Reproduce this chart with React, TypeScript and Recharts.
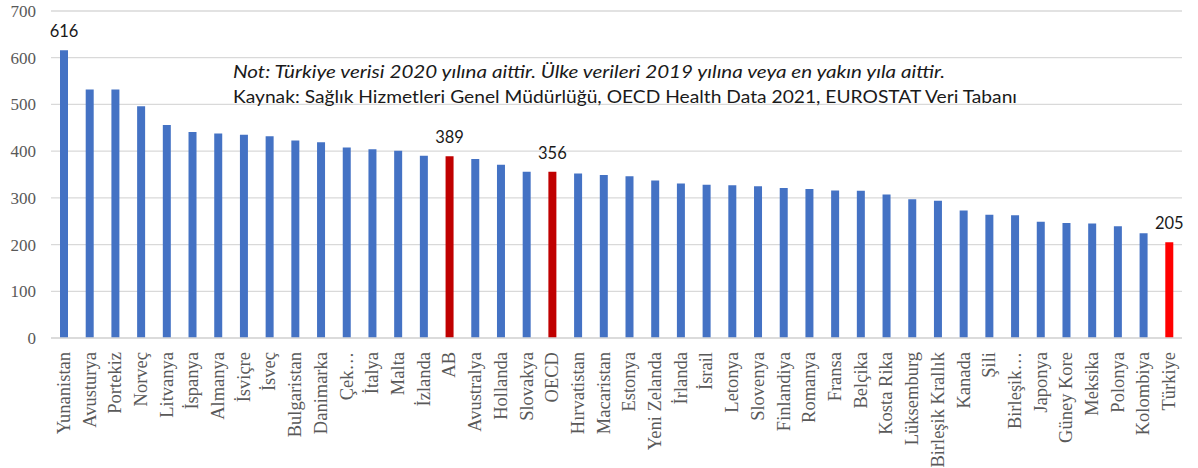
import React from 'react';
import { BarChart, Bar, XAxis, YAxis, CartesianGrid, Cell, LabelList } from 'recharts';

const categories = [
  'Yunanistan', 'Avusturya', 'Portekiz', 'Norveç', 'Litvanya', 'İspanya', 'Almanya', 'İsviçre',
  'İsveç', 'Bulgaristan', 'Danimarka', 'Çek…', 'İtalya', 'Malta', 'İzlanda', 'AB', 'Avustralya',
  'Hollanda', 'Slovakya', 'OECD', 'Hırvatistan', 'Macaristan', 'Estonya', 'Yeni Zelanda', 'İrlanda',
  'İsrail', 'Letonya', 'Slovenya', 'Finlandiya', 'Romanya', 'Fransa', 'Belçika', 'Kosta Rika',
  'Lüksemburg', 'Birleşik Krallık', 'Kanada', 'Şili', 'Birleşik…', 'Japonya', 'Güney Kore',
  'Meksika', 'Polonya', 'Kolombiya', 'Türkiye',
];

const values = [
  616, 532, 532, 496, 456, 441, 438, 435, 432, 423, 419, 408, 404, 401, 390, 389, 383, 371, 356, 356,
  352, 349, 346, 337, 331, 328, 327, 325, 321, 319, 316, 315, 307, 297, 294, 273, 264, 263, 249, 246,
  245, 239, 224, 205,
];

const yTicks = [0, 100, 200, 300, 400, 500, 600, 700];
const labelledCategories = ['Yunanistan', 'AB', 'OECD', 'Türkiye'];
const averageCategories = ['AB', 'OECD'];
const highlightCategory = 'Türkiye';
const noteLine = 'Not: Türkiye verisi 2020 yılına aittir. Ülke verileri 2019 yılına veya en yakın yıla aittir.';
const sourceLine = 'Kaynak: Sağlık Hizmetleri Genel Müdürlüğü, OECD Health Data 2021, EUROSTAT Veri Tabanı';

const data = categories.map((name, i) => ({ name, value: values[i] }));

const BLUE = '#4472C4';
const DARK_RED = '#C00000';
const RED = '#FF0000';
const SERIF = "'Liberation Serif', 'Times New Roman', serif";
const colorFor = (name: string) =>
  name === highlightCategory ? RED : averageCategories.includes(name) ? DARK_RED : BLUE;

const XTick = (props: any) => {
  const { x, y, payload } = props;
  const ax = x + 6;
  const ay = y + 6;
  return (
    <text
      x={ax}
      y={ay}
      transform={`rotate(-90, ${ax}, ${ay})`}
      textAnchor="end"
      fontFamily={SERIF}
      fontSize={18.5}
      fill="#595959"
    >
      {payload.value}
    </text>
  );
};

const YTick = (props: any) => {
  const { y, payload } = props;
  return (
    <text
      x={36}
      y={y}
      dy="0.35em"
      textAnchor="end"
      fontFamily={SERIF}
      fontSize={17}
      fill="#595959"
    >
      {payload.value}
    </text>
  );
};

const ValueLabel = (props: any) => {
  const { x, y, width, value, index } = props;
  if (!labelledCategories.includes(categories[index])) return null;
  return (
    <text
      x={Number(x) + Number(width) / 2}
      y={Number(y) - 13}
      textAnchor="middle"
      fontFamily="Lato, sans-serif"
      fontSize={16.5}
      fill="#1a1a1a"
    >
      {value}
    </text>
  );
};

export default function App() {
  return (
    <div style={{ position: 'absolute', left: 0, top: 0, width: 1198, height: 468, background: '#fff' }}>
      <BarChart
        width={1198}
        height={468}
        data={data}
        margin={{ top: 11, right: 16, bottom: 0, left: 0 }}
      >
        <CartesianGrid vertical={false} stroke="#D9D9D9" strokeWidth={1.3} />
        <XAxis
          dataKey="name"
          interval={0}
          height={130}
          tickLine={false}
          axisLine={{ stroke: '#D9D9D9', strokeWidth: 1.3 }}
          tick={<XTick />}
        />
        <YAxis
          width={51}
          domain={[0, 700]}
          ticks={yTicks}
          tickLine={false}
          axisLine={false}
          tick={<YTick />}
        />
        <Bar dataKey="value" barSize={8} isAnimationActive={false}>
          {data.map((d) => (
            <Cell key={d.name} fill={colorFor(d.name)} />
          ))}
          <LabelList dataKey="value" content={<ValueLabel />} />
        </Bar>
      </BarChart>
      <svg
        width={1198}
        height={468}
        style={{ position: 'absolute', left: 0, top: 0, pointerEvents: 'none' }}
      >
        <text
          x={233}
          y={78}
          fontFamily="Lato, sans-serif"
          fontStyle="italic"
          fontSize={18}
          fill="#1a1a1a"
          textLength={712}
          lengthAdjust="spacingAndGlyphs"
        >
          {noteLine}
        </text>
        <text
          x={233}
          y={103}
          fontFamily="Lato, sans-serif"
          fontSize={18}
          fill="#1a1a1a"
          textLength={784}
          lengthAdjust="spacingAndGlyphs"
        >
          {sourceLine}
        </text>
      </svg>
    </div>
  );
}
